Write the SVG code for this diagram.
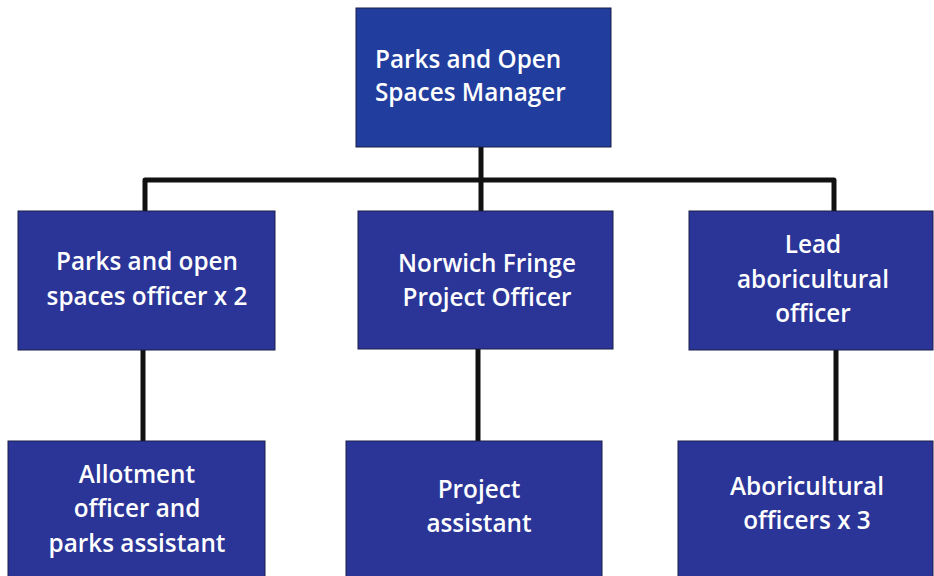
<svg xmlns="http://www.w3.org/2000/svg" width="934" height="576" viewBox="0 0 934 576">
<style>
.box{fill:#2a3597;stroke:#1a1f4a;stroke-width:1}
.top{fill:#213d9e}
.t{fill:#fff;font-family:"Open Sans","Noto Sans",sans-serif;font-weight:600;font-size:24.3px;text-anchor:middle}
.c{stroke:#111;stroke-width:5;fill:none;stroke-linejoin:round}
</style>
<rect width="934" height="576" fill="#fff"/>
<g id="connectors">
<path class="c" d="M481 147V211M145 211V180H834V211M143 350V441M478 349V441M836 350V441"/>
</g>
<g id="n1"><rect class="box top" x="356" y="8" width="255" height="139"/>
<text class="t" x="375" y="68" style="text-anchor:start">Parks and Open</text>
<text class="t" x="375" y="101" style="text-anchor:start">Spaces Manager</text></g>
<g id="n2"><rect class="box" x="18" y="211" width="257" height="139"/>
<text class="t" x="147" y="270">Parks and open</text>
<text class="t" x="147" y="305">spaces officer x 2</text></g>
<g id="n3"><rect class="box" x="358" y="211" width="255" height="138"/>
<text class="t" x="487" y="272">Norwich Fringe</text>
<text class="t" x="487" y="306">Project Officer</text></g>
<g id="n4"><rect class="box" x="689" y="211" width="244" height="139"/>
<text class="t" x="813" y="253">Lead</text>
<text class="t" x="813" y="288">aboricultural</text>
<text class="t" x="813" y="322">officer</text></g>
<g id="n5"><rect class="box" x="8" y="441" width="257" height="140"/>
<text class="t" x="137" y="483">Allotment</text>
<text class="t" x="137" y="517">officer and</text>
<text class="t" x="137" y="552">parks assistant</text></g>
<g id="n6"><rect class="box" x="346" y="441" width="256" height="140"/>
<text class="t" x="479" y="498">Project</text>
<text class="t" x="479" y="532">assistant</text></g>
<g id="n7"><rect class="box" x="678" y="441" width="255" height="140"/>
<text class="t" x="807" y="495">Aboricultural</text>
<text class="t" x="807" y="529">officers x 3</text></g>
</svg>
